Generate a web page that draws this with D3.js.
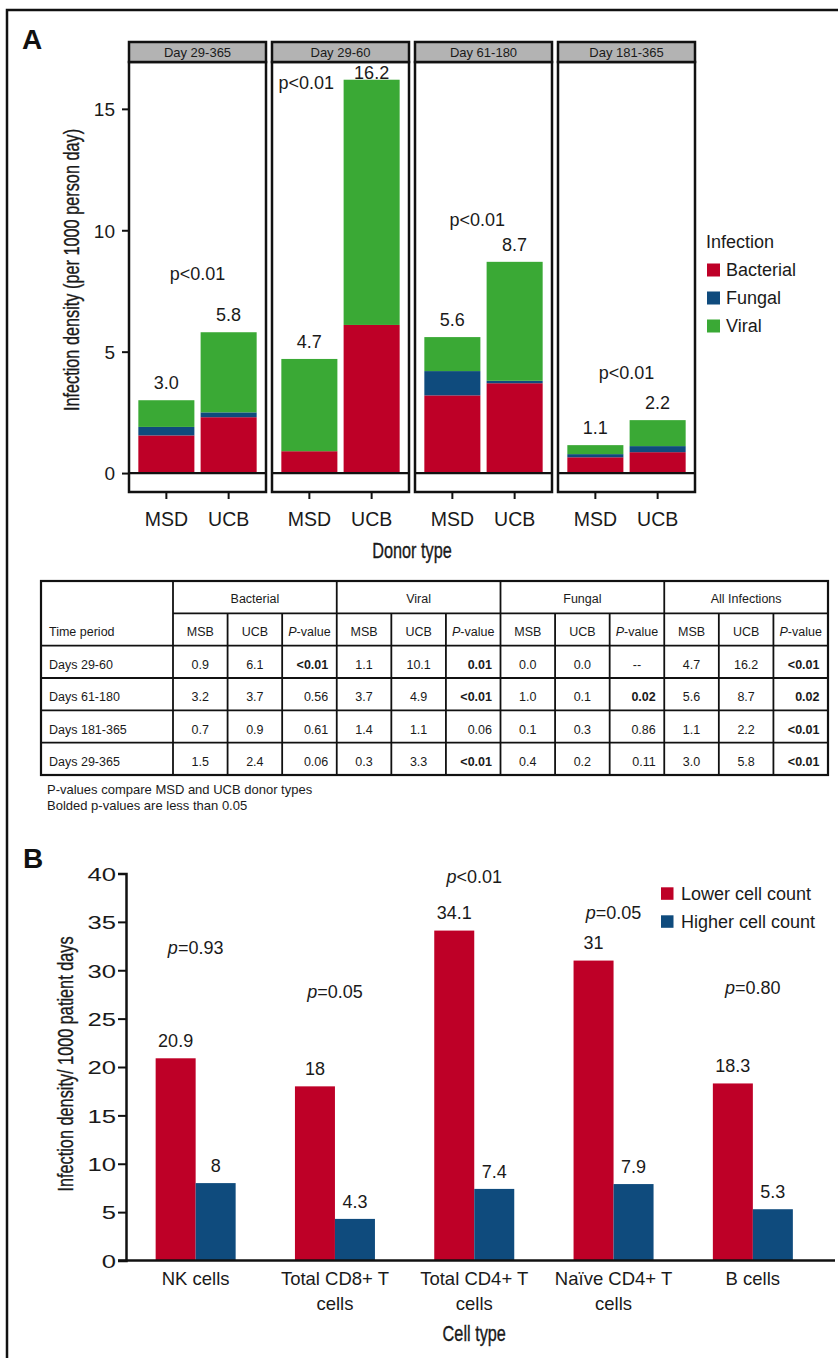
<!DOCTYPE html>
<html><head><meta charset="utf-8">
<script src="https://cdn.jsdelivr.net/npm/d3@7"></script>
<style>
body{margin:0;background:#fff}
svg{display:block;font-family:"Liberation Sans",Arial,Helvetica,sans-serif}
</style>
</head><body><script>
// ---------- Panel A data ----------
const facets = ["Day 29-365","Day 29-60","Day 61-180","Day 181-365"];
const donors = ["MSD","UCB"];
const infectionTypes = ["Bacterial","Fungal","Viral"];
const bacterialMSD = [1.55, 0.9, 3.2, 0.65];
const bacterialUCB = [2.3, 6.1, 3.7, 0.86];
const fungalMSD    = [0.35, 0.0, 1.0, 0.13];
const fungalUCB    = [0.2, 0.0, 0.1, 0.25];
const viralMSD     = [1.1, 3.8, 1.4, 0.37];
const viralUCB     = [3.3, 10.1, 4.9, 1.07];
const totalLabelMSD = ["3.0","4.7","5.6","1.1"];
const totalLabelUCB = ["5.8","16.2","8.7","2.2"];
const pTextA = ["p<0.01","p<0.01","p<0.01","p<0.01"];
const pAnchorXA = [1.5, 0.95, 1.4, 1.5];     // in donor-axis units
const pAnchorYA = [8.2, 16.07, 10.42, 4.12];  // in data units
const yTicksA = [0,5,10,15];

// ---------- Table data ----------
const tablePeriods = ["Days 29-60","Days 61-180","Days 181-365","Days 29-365"];
const tableGroups = ["Bacterial","Viral","Fungal","All Infections"];
const tableSubHeads = ["MSB","UCB","P-value"];
const tableBacterial = [["0.9","6.1","<0.01"],["3.2","3.7","0.56"],["0.7","0.9","0.61"],["1.5","2.4","0.06"]];
const tableViral     = [["1.1","10.1","0.01"],["3.7","4.9","<0.01"],["1.4","1.1","0.06"],["0.3","3.3","<0.01"]];
const tableFungal    = [["0.0","0.0","--"],["1.0","0.1","0.02"],["0.1","0.3","0.86"],["0.4","0.2","0.11"]];
const tableAll       = [["4.7","16.2","<0.01"],["5.6","8.7","0.02"],["1.1","2.2","<0.01"],["3.0","5.8","<0.01"]];
const footnotes = ["P-values compare MSD and UCB donor types","Bolded p-values are less than 0.05"];

// ---------- Panel B data ----------
const cellTypes = [["NK cells"],["Total CD8+ T","cells"],["Total CD4+ T","cells"],["Naïve CD4+ T","cells"],["B cells"]];
const countGroups = ["Lower cell count","Higher cell count"];
const lowerCount  = [20.9, 18, 34.1, 31, 18.3];
const higherCount = [8, 4.3, 7.4, 7.9, 5.3];
const pTextB = ["=0.93","=0.05","<0.01","=0.05","=0.80"];
const pAnchorYB = [32.3, 27.8, 39.7, 36.0, 28.2];
const yTicksB = [0,5,10,15,20,25,30,35,40];

// ---------- styles ----------
const RED = "#BE0027", BLUE = "#0F4B7D", GREEN = "#3AA935", INK = "#1a1a1a";
const color = d3.scaleOrdinal().domain(infectionTypes).range([RED, BLUE, GREEN]);

const svg = d3.select("body").append("svg").attr("width",838).attr("height",1358);
// outer frame
svg.append("path").attr("d","M7,1358 V10 H838").attr("fill","none").attr("stroke","#111").attr("stroke-width",2.5);

// panel letters
svg.append("text").attr("x",22).attr("y",49).text("A").attr("font-size",28).attr("font-weight","bold").attr("fill","#111");
svg.append("text").attr("x",23).attr("y",868).text("B").attr("font-size",28).attr("font-weight","bold").attr("fill","#111");

// condensed title helper
function condensedTitle(transform, txt){
  svg.append("text").attr("transform",transform)
    .attr("text-anchor","middle").attr("dy","0.36em").attr("font-size",22)
    .attr("fill",INK).attr("stroke",INK).attr("stroke-width",0.35).text(txt);
}

// ================= PANEL A =================
const fx = d3.scaleBand().domain(facets).range([129,695]).paddingInner(6/143);
const bw = fx.bandwidth();
const dx = d3.scaleBand().domain(donors).range([0,bw]).paddingInner(0.1).paddingOuter(0.15);
const xin = d3.scaleLinear().domain([0.4,2.6]).range([0,bw]);
const yA = d3.scaleLinear().domain([-0.78,16.93]).range([492,62]);
const panelTop = yA.range()[1], panelBot = yA.range()[0];

facets.forEach((f,i)=>{
  const g = svg.append("g").attr("transform",`translate(${fx(f)},0)`);
  const rows = [
    {donor:"MSD", Bacterial:bacterialMSD[i], Fungal:fungalMSD[i], Viral:viralMSD[i], label:totalLabelMSD[i]},
    {donor:"UCB", Bacterial:bacterialUCB[i], Fungal:fungalUCB[i], Viral:viralUCB[i], label:totalLabelUCB[i]}
  ];
  const series = d3.stack().keys(infectionTypes)(rows);
  g.append("rect").attr("x",0).attr("y",panelTop).attr("width",bw).attr("height",panelBot-panelTop).attr("fill","#fff");
  g.selectAll("g.s").data(series).join("g").attr("fill",d=>color(d.key))
    .selectAll("rect").data(d=>d.filter(p=>p[1]-p[0]>0)).join("rect")
    .attr("x",d=>dx(d.data.donor)).attr("width",dx.bandwidth())
    .attr("y",d=>yA(d[1])).attr("height",d=>yA(d[0])-yA(d[1]));
  // zero line
  g.append("line").attr("x1",0).attr("x2",bw).attr("y1",yA(0)).attr("y2",yA(0)).attr("stroke","#111").attr("stroke-width",2.2);
  g.append("rect").attr("x",0).attr("y",panelTop).attr("width",bw).attr("height",panelBot-panelTop)
    .attr("fill","none").attr("stroke","#111").attr("stroke-width",2.5);
  // strip
  g.append("rect").attr("x",0).attr("y",42).attr("width",bw).attr("height",panelTop-42)
    .attr("fill","#B3B3B3").attr("stroke","#111").attr("stroke-width",2.5);
  g.append("text").attr("x",bw/2).attr("y",52.3+4.6).attr("text-anchor","middle").attr("font-size",13).attr("fill",INK).text(f);
  // total labels
  rows.forEach(r=>{
    const top = yA(r.Bacterial+r.Fungal+r.Viral);
    const cy = Math.max(top-17.5, panelTop+11);
    g.append("text").attr("x",dx(r.donor)+dx.bandwidth()/2).attr("y",cy+6.4)
      .attr("text-anchor","middle").attr("font-size",18).attr("fill",INK).text(r.label);
  });
  // p-value
  g.append("text").attr("x",xin(pAnchorXA[i])).attr("y",yA(pAnchorYA[i])+6.4)
    .attr("text-anchor","middle").attr("font-size",18).attr("fill",INK).text(pTextA[i]);
  // x axis
  const ax = g.append("g").attr("transform",`translate(0,${panelBot})`).call(d3.axisBottom(dx).tickSize(7));
  ax.select(".domain").remove();
  ax.selectAll("line").attr("stroke","#111").attr("stroke-width",2);
  ax.selectAll("text").attr("y",34).attr("dy",null).attr("font-size",19.5).attr("fill",INK).attr("font-family","Liberation Sans, Arial, sans-serif");
});
// y axis A
const ayA = svg.append("g").attr("transform",`translate(${fx(facets[0])},0)`)
  .call(d3.axisLeft(yA).tickValues(yTicksA).tickSize(7).tickPadding(7));
ayA.select(".domain").remove();
ayA.selectAll("line").attr("stroke","#111").attr("stroke-width",2);
ayA.selectAll("text").attr("font-size",19).attr("fill",INK).attr("dy","0.36em").attr("font-family","Liberation Sans, Arial, sans-serif");

// axis titles A (condensed)
condensedTitle("translate(71,270) rotate(-90) scale(0.74,1)","Infection density (per 1000 person day)");
condensedTitle("translate(412,550) scale(0.74,1)","Donor type");

// legend A
const legA = svg.append("g").attr("transform","translate(706,0)");
legA.append("text").attr("x",0).attr("y",242+6.4).attr("font-size",18).attr("fill",INK).text("Infection");
infectionTypes.forEach((k,i)=>{
  const cy = 270 + i*28;
  legA.append("rect").attr("x",1).attr("y",cy-6.5).attr("width",13).attr("height",13).attr("fill",color(k));
  legA.append("text").attr("x",20).attr("y",cy+6.4).attr("font-size",18).attr("fill",INK).text(k);
});

// ================= TABLE =================
const colEdge = d3.scaleLinear().domain([0,12]).range([173,828]);
const rowEdge = d3.scaleLinear().domain([0,6]).range([581,775]);
const tbl = svg.append("g").attr("font-size",12.5).attr("fill",INK);
const lineSty = s=>s.attr("stroke","#111").attr("stroke-width",1.8);
lineSty(tbl.append("line").attr("x1",colEdge(0)).attr("x2",828).attr("y1",rowEdge(1)).attr("y2",rowEdge(1)));
for(let r=2;r<=5;r++) lineSty(tbl.append("line").attr("x1",41).attr("x2",828).attr("y1",rowEdge(r)).attr("y2",rowEdge(r)));
for(let c=0;c<12;c++){
  const full = c%3===0;
  lineSty(tbl.append("line").attr("x1",colEdge(c)).attr("x2",colEdge(c)).attr("y1",full?rowEdge(0):rowEdge(1)).attr("y2",rowEdge(6)));
}
tbl.append("rect").attr("x",41).attr("y",rowEdge(0)).attr("width",828-41).attr("height",rowEdge(6)-rowEdge(0))
  .attr("fill","none").attr("stroke","#111").attr("stroke-width",2.2);
tableGroups.forEach((gname,i)=>{
  tbl.append("text").attr("x",(colEdge(i*3)+colEdge(i*3+3))/2).attr("y",(rowEdge(0)+rowEdge(1))/2+1+4.5)
    .attr("text-anchor","middle").text(gname);
});
tbl.append("text").attr("x",49).attr("y",(rowEdge(1)+rowEdge(2))/2+2+4.5).text("Time period");
for(let c=0;c<12;c++){
  const h = tableSubHeads[c%3];
  const t = tbl.append("text").attr("x",(colEdge(c)+colEdge(c+1))/2).attr("y",(rowEdge(1)+rowEdge(2))/2+2+4.5).attr("text-anchor","middle");
  if(h==="P-value"){ t.append("tspan").attr("font-style","italic").text("P"); t.append("tspan").text("-value"); }
  else t.text(h);
}
const tableBlocks = [tableBacterial, tableViral, tableFungal, tableAll];
tablePeriods.forEach((p,r)=>{
  const cy = (rowEdge(r+2)+rowEdge(r+3))/2 + 2.5;
  tbl.append("text").attr("x",49).attr("y",cy+4.5).text(p);
  tableBlocks.forEach((blk,b)=>{
    blk[r].forEach((v,k)=>{
      const c = b*3+k;
      const t = tbl.append("text").attr("y",cy+4.5);
      if(k<2 || v==="--"){
        t.attr("x",(colEdge(c)+colEdge(c+1))/2).attr("text-anchor","middle");
      } else {
        t.attr("x",colEdge(c+1)-8.5).attr("text-anchor","end");
        const sig = v.startsWith("<") || parseFloat(v) < 0.05;
        if(sig) t.attr("font-weight","bold");
      }
      t.text(v);
    });
  });
});
footnotes.forEach((f,i)=>{
  svg.append("text").attr("x",47).attr("y",789+i*16+4.6).attr("font-size",13).attr("fill",INK).text(f);
});

// ================= PANEL B =================
const xB = d3.scaleBand().domain(d3.range(cellTypes.length)).range([126,822.5]).paddingInner(0.4257).paddingOuter(0.2128);
const xBin = d3.scaleBand().domain(countGroups).range([0,xB.bandwidth()]);
const yB = d3.scaleLinear().domain([0,40]).range([1260.5,873.5]);
const colorB = d3.scaleOrdinal().domain(countGroups).range([RED, BLUE]);

const gB = svg.append("g");
cellTypes.forEach((c,i)=>{
  const vals = [{k:countGroups[0], v:lowerCount[i]},{k:countGroups[1], v:higherCount[i]}];
  const g = gB.append("g").attr("transform",`translate(${xB(i)},0)`);
  g.selectAll("rect").data(vals).join("rect")
    .attr("x",d=>xBin(d.k)).attr("width",xBin.bandwidth())
    .attr("y",d=>yB(d.v)).attr("height",d=>yB(0)-yB(d.v)).attr("fill",d=>colorB(d.k));
  g.selectAll("text.v").data(vals).join("text").attr("class","v")
    .attr("x",d=>xBin(d.k)+xBin.bandwidth()/2).attr("y",d=>yB(d.v)-17.5+6.4)
    .attr("text-anchor","middle").attr("font-size",18).attr("fill",INK).text(d=>String(d.v));
  const pt = g.append("text").attr("x",xB.bandwidth()/2).attr("y",yB(pAnchorYB[i])+6.4)
    .attr("text-anchor","middle").attr("font-size",18).attr("fill",INK);
  pt.append("tspan").attr("font-style","italic").text("p");
  pt.append("tspan").text(pTextB[i]);
  c.forEach((line,li)=>{
    g.append("text").attr("x",xB.bandwidth()/2).attr("y",1278+li*25.5+6.5)
      .attr("text-anchor","middle").attr("font-size",18.5).attr("fill",INK).text(line);
  });
});
const ayB = svg.append("g").attr("transform","translate(126,0)")
  .call(d3.axisLeft(yB).tickValues(yTicksB).tickSize(8).tickPadding(2));
ayB.select(".domain").attr("stroke","#111").attr("stroke-width",2.5);
ayB.selectAll("line").attr("stroke","#111").attr("stroke-width",2);
ayB.selectAll("text").attr("font-size",19).attr("fill",INK).attr("dy","0.36em")
  .attr("font-family","Liberation Sans, Arial, sans-serif")
  .attr("x",-10/1.35).attr("transform","scale(1.35,1)");
svg.append("line").attr("x1",118).attr("x2",835).attr("y1",yB(0)).attr("y2",yB(0)).attr("stroke","#111").attr("stroke-width",2.5);

condensedTitle("translate(65,1064) rotate(-90) scale(0.74,1)","Infection density/ 1000 patient days");
condensedTitle(`translate(${(126+822.5)/2},1333) scale(0.74,1)`,"Cell type");

countGroups.forEach((k,i)=>{
  const cy = 893.5 + i*28;
  svg.append("rect").attr("x",661).attr("y",cy-6.2).attr("width",12.5).attr("height",12.5).attr("fill",colorB(k));
  svg.append("text").attr("x",681).attr("y",cy+6.4).attr("font-size",18).attr("fill",INK).text(k);
});
</script></body></html>
